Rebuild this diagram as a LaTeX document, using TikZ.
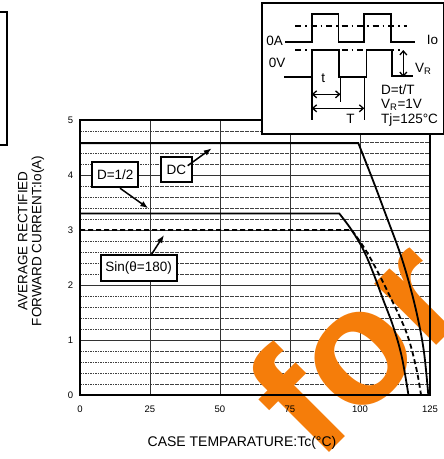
\documentclass[tikz,border=0pt]{standalone}
\usepackage{fontspec}
\setmainfont{Liberation Sans}
\usetikzlibrary{arrows.meta,calc}
\definecolor{wmorange}{RGB}{245,125,10}
\begin{document}
\begin{tikzpicture}[x=1pt,y=-1pt,
  gridd/.style={line width=0.7pt,black!75,dash pattern=on 1.6pt off 0.9pt},
  grids/.style={line width=0.9pt,black!80},
  frame/.style={line width=1.8pt},
  curve/.style={line width=1.8pt},
  lbl/.style={draw,line width=1.8pt,fill=white,inner sep=0pt,font=\fontsize{13.5}{15}\selectfont},
  ptr/.style={line width=1.5pt,-{Latex[length=8pt,width=6pt]}},
  tick/.style={font=\fontsize{9.5}{10}\selectfont,inner sep=0pt},
  wave/.style={line width=1.6pt},
  dashdot/.style={line width=1.3pt,dash pattern=on 6pt off 4pt on 1.5pt off 4pt},
  dim/.style={line width=1.3pt,{Straight Barb[length=4pt,width=7pt]}-{Straight Barb[length=4pt,width=7pt]}},
  itxt/.style={font=\fontsize{13.5}{15}\selectfont,inner sep=0pt},
]
\useasboundingbox (0,0) rectangle (444,459);

% left fragment of a box
\draw[line width=1.5pt] (0,12) -- (7,12) -- (7,145) -- (0,145);

% grid
\begin{scope}[shift={(80,395)},x=2.8pt,y=55pt]
  \foreach \i in {1,...,24} \draw[gridd] (0,\i/5) -- (125,\i/5);
  \foreach \v in {1,...,4} \draw[grids] (0,\v) -- (125,\v);
  \foreach \t in {25,50,75,100} \draw[grids] (\t,0) -- (\t,5);
\end{scope}

% watermark
\node[text=wmorange,rotate=45,anchor=base west,inner sep=0pt,
      font=\fontsize{165}{165}\selectfont\bfseries] (wm) at (318,464) {for};

% plot frame and curves
\begin{scope}[shift={(80,395)},x=2.8pt,y=55pt]
  \draw[frame] (0,0) rectangle (125,5);
  \draw[curve] (0,4.58) -- plot[smooth,tension=0.6] coordinates
    {(99.4,4.58) (104.8,3.88) (109.5,3.24) (114.3,2.58) (117.9,1.97) (120.8,1.36) (122.9,0.76) (124.4,0)};
  \draw[curve] (0,3.30) -- plot[smooth,tension=0.6] coordinates
    {(92.6,3.30) (97.0,3.0) (101.2,2.64) (104.8,2.21) (108.3,1.73) (111.9,1.24) (114.9,0.70) (117.3,0)};
  \draw[curve,dash pattern=on 5pt off 3pt] (0,3.0) -- plot[smooth,tension=0.6] coordinates
    {(97,3.0) (101.2,2.70) (105.4,2.33) (111.3,1.73) (116.7,1.12) (120,0.51) (121.8,0)};
\end{scope}

% tick labels
\foreach \t in {0,25,50,75,100,125}
  \node[tick] (xt\t) at ({80+2.8*\t},409) {\t};
\foreach \v in {0,...,5}
  \node[tick] (yt\v) at (70.5,{395-55*\v}) {\v};

% axis titles
\node[font=\fontsize{14}{16}\selectfont,inner sep=0pt] (xtitle) at (242,443) {CASE TEMPARATURE:Tc(°C)};
\node[font=\fontsize{13.5}{14}\selectfont,inner sep=0pt,rotate=90,align=center] (ytitle) at (31,241)
  {AVERAGE RECTIFIED\\FORWARD CURRENT:Io(A)};

% curve labels
\node[lbl,minimum width=46pt,minimum height=25pt] (d12) at (115.3,174.8) {D=1/2};
\node[lbl,minimum width=31pt,minimum height=24.5pt] (dc) at (176.3,169.5) {DC};
\node[lbl,minimum width=76pt,minimum height=26pt] (sin) at (138.7,268) {Sin(θ=180)};
\coordinate (dctip) at (211.7,148.3);
\coordinate (d12tip) at (148.3,208.3);
\coordinate (sintip) at (164,235);
\draw[ptr] ([xshift=-5pt,yshift=3.8pt]dc.east) -- (dctip);
\draw[ptr] ([xshift=4.7pt]d12.south) -- (d12tip);
\draw[ptr] ([xshift=13pt]sin.north) -- (sintip);

% inset
\node[draw,line width=1.5pt,fill=white,minimum width=182pt,minimum height=131pt,inner sep=0pt,anchor=north west] (inset) at (261,2) {};
\draw[dashdot] (295,26) -- (407,26);
\draw[dashdot] (295,50) -- (402,50);
\draw[wave] (285,42) -- (311.7,42) -- (311.7,14) -- (338.3,14) -- (338.3,42) -- (364,42) -- (364,14) -- (390.7,14) -- (390.7,42) -- (415,42);
\draw[wave] (284,77) -- (311.7,77) -- (311.7,50) -- (339,50) -- (339,77) -- (366.5,77) -- (366.5,50) -- (391.7,50) -- (391.7,76) -- (413,76);
\draw[wave] (311.7,77) -- (311.7,120);
\draw[wave] (340.5,77) -- (340.5,102);
\draw[wave] (364.3,77) -- (364.3,120);
\coordinate (ta) at (311.7,94.3);
\coordinate (tb) at (340.5,94.3);
\coordinate (Ta) at (311.7,108.3);
\coordinate (Tb) at (364.3,108.3);
\coordinate (va) at (403.3,50);
\coordinate (vb) at (403.3,77);
\draw[dim] (ta) -- (tb);
\draw[dim] (Ta) -- (Tb);
\draw[dim] (va) -- (vb);
\node[itxt,anchor=east] (zeroA) at (283,41) {0A};
\node[itxt,anchor=east] (zeroV) at (285.5,62.5) {0V};
\node[itxt] (io) at (432.5,40) {Io};
\node[itxt] (tlbl) at (323.3,78) {t};
\node[itxt,anchor=base] (Tlbl) at (350.5,123) {T};
\node[itxt,anchor=base west] (vr) at (415,72) {V\textsubscript{R}};
\node[itxt,anchor=base west] (l1) at (381,94) {D=t/T};
\node[itxt,anchor=base west] (l2) at (381,108.5) {V\textsubscript{R}=1V};
\node[itxt,anchor=base west] (l3) at (381,123) {Tj=125°C};
\end{tikzpicture}
\end{document}
